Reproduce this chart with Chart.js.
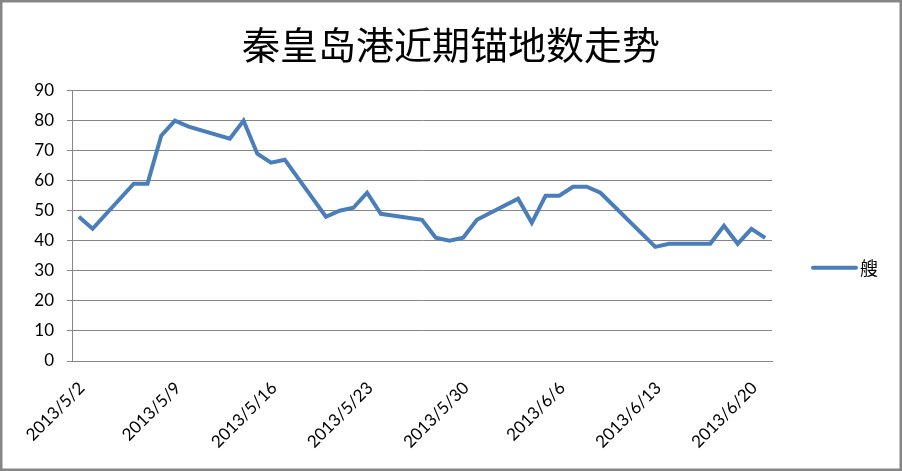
<!DOCTYPE html>
<html>
<head>
<meta charset="utf-8">
<script src="https://cdn.jsdelivr.net/npm/chart.js@4/dist/chart.umd.min.js"></script>
<style>
  html, body { margin: 0; padding: 0; background: #fff; }
  #wrap { width: 902px; height: 471px; position: relative; }
</style>
</head>
<body>
<div id="wrap"><canvas id="c" width="902" height="471"></canvas></div>
<script>
const chartTitle = '秦皇岛港近期锚地数走势';
const seriesName = '艘';
const categories = [
  '2013/5/2','2013/5/3','2013/5/4','2013/5/5','2013/5/6','2013/5/7','2013/5/8',
  '2013/5/9','2013/5/10','2013/5/11','2013/5/12','2013/5/13','2013/5/14','2013/5/15',
  '2013/5/16','2013/5/17','2013/5/18','2013/5/19','2013/5/20','2013/5/21','2013/5/22',
  '2013/5/23','2013/5/24','2013/5/25','2013/5/26','2013/5/27','2013/5/28','2013/5/29',
  '2013/5/30','2013/5/31','2013/6/1','2013/6/2','2013/6/3','2013/6/4','2013/6/5',
  '2013/6/6','2013/6/7','2013/6/8','2013/6/9','2013/6/10','2013/6/11','2013/6/12',
  '2013/6/13','2013/6/14','2013/6/15','2013/6/16','2013/6/17','2013/6/18','2013/6/19',
  '2013/6/20','2013/6/21'
];
const values = [
  48, 44, null, null, 59, 59, 75,
  80, 78, null, null, 74, 80, 69,
  66, 67, null, null, 48, 50, 51,
  56, 49, null, null, 47, 41, 40,
  41, 47, null, null, 54, 46, 55,
  55, 58, 58, 56, null, null, null,
  38, 39, null, null, 39, 45, 39,
  44, 41
];
const shownTickLabels = ['2013/5/2','2013/5/9','2013/5/16','2013/5/23','2013/5/30','2013/6/6','2013/6/13','2013/6/20'];
const yTicks = [0, 10, 20, 30, 40, 50, 60, 70, 80, 90];

const LINE_COLOR = '#4A7EBB';
const GRID_COLOR = '#868686';
const LABEL_FONT = 'Lato, "Liberation Sans", "Noto Sans", sans-serif';

const frameAndLegend = {
  id: 'frameAndLegend',
  afterDraw(chart) {
    const ctx = chart.ctx;
    const ca = chart.chartArea;
    const ds = chart.data.datasets[0];
    const ly = (ca.top + ca.bottom) / 2 + 42;
    const lx = ca.right + 41;
    ctx.save();
    ctx.strokeStyle = ds.borderColor;
    ctx.lineWidth = ds.borderWidth;
    ctx.lineCap = 'round';
    ctx.beginPath();
    ctx.moveTo(lx, ly);
    ctx.lineTo(lx + 43, ly);
    ctx.stroke();
    ctx.fillStyle = '#000';
    ctx.font = '18px "Noto Sans CJK SC", sans-serif';
    ctx.textBaseline = 'middle';
    ctx.textAlign = 'left';
    ctx.fillText(ds.label, lx + 47, ly);
    ctx.strokeStyle = GRID_COLOR;
    ctx.lineWidth = 2.5;
    ctx.strokeRect(1.25, 1.25, chart.width - 2.5, chart.height - 2.5);
    ctx.restore();
  }
};

new Chart(document.getElementById('c'), {
  type: 'line',
  data: {
    labels: categories,
    datasets: [{
      label: seriesName,
      data: values,
      borderColor: LINE_COLOR,
      backgroundColor: LINE_COLOR,
      borderWidth: 4,
      pointRadius: 0,
      pointHoverRadius: 0,
      tension: 0,
      spanGaps: true,
      fill: false,
      yAxisID: 'y'
    }]
  },
  options: {
    responsive: false,
    animation: false,
    devicePixelRatio: 1,
    layout: { padding: { left: 0, right: 0, top: 13, bottom: 0 } },
    plugins: {
      legend: { display: false },
      tooltip: { enabled: false },
      title: {
        display: true,
        text: chartTitle,
        color: '#000',
        font: { family: '"Noto Sans CJK SC", sans-serif', size: 38, weight: 'normal', lineHeight: 1.2 },
        padding: { top: 9, bottom: 23 }
      }
    },
    scales: {
      x: {
        offset: true,
        grid: { display: false, drawTicks: false },
        border: { display: true, color: GRID_COLOR, width: 1 },
        ticks: {
          autoSkip: false,
          maxRotation: 45,
          minRotation: 45,
          padding: 17,
          labelOffset: 3,
          color: '#000',
          font: { family: LABEL_FONT, size: 17 },
          callback(value, index) {
            const lab = this.getLabelForValue(value);
            return shownTickLabels.includes(lab) ? lab : '';
          }
        },
        afterFit(scale) { scale.height = 110; }
      },
      y: {
        min: yTicks[0],
        max: yTicks[yTicks.length - 1],
        grid: { color: GRID_COLOR, lineWidth: 1, drawTicks: true, tickLength: 5 },
        border: { display: true, color: GRID_COLOR, width: 1 },
        ticks: {
          stepSize: yTicks[1] - yTicks[0],
          padding: 13,
          color: '#000',
          font: { family: LABEL_FONT, size: 17 }
        },
        afterFit(scale) { scale.width = 72; }
      },
      legendSpace: {
        type: 'linear',
        position: 'right',
        display: true,
        grid: { display: false, drawTicks: false },
        border: { display: false },
        ticks: { display: false },
        afterFit(scale) { scale.width = 130; }
      }
    }
  },
  plugins: [frameAndLegend]
});
</script>
</body>
</html>
